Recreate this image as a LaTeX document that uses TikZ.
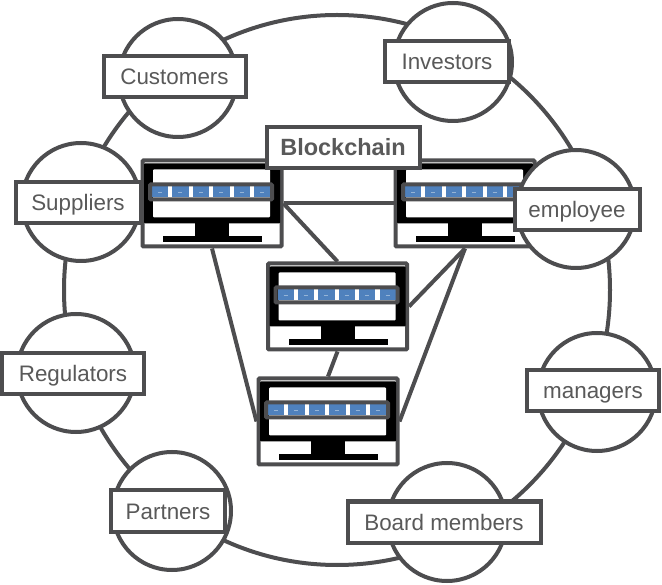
\documentclass[tikz,border=0pt]{standalone}
\usepackage{fontspec}
\setmainfont{Liberation Sans}
\usetikzlibrary{positioning,shapes.geometric}
\definecolor{edgegray}{HTML}{4D4D4F}
\definecolor{labelgray}{HTML}{595959}
\definecolor{blockblue}{HTML}{4F81BD}
\tikzset{
ln/.style={draw=edgegray,line width=4pt},
party/.style={ln,circle,fill=white,minimum size=118pt,inner sep=0pt},
lbl/.style={ln,rectangle,fill=white,minimum height=41pt,inner sep=0pt,text=labelgray,text height=16pt,text depth=0pt,font=\fontsize{22.4}{26}\selectfont},
pc/.style={ln,rectangle,fill=white,rounded corners=1pt,minimum width=139pt,minimum height=86pt,inner sep=0pt},
wire/.style={ln}
}
\newcommand{\drawscreen}[1]{
\fill[black,rounded corners=1pt]([shift={(-68,-40)}]#1.center) rectangle ([shift={(68,20)}]#1.center);
\fill[white,rounded corners=1pt]([shift={(-59,-34)}]#1.center) rectangle ([shift={(58,14)}]#1.center);
\fill[black]([shift={(-17,20)}]#1.center) rectangle ([shift={(17,33)}]#1.center);
\fill[black]([shift={(-49,33)}]#1.center) rectangle ([shift={(50,39)}]#1.center);
\foreach\k in{0,...,5}{\fill[blockblue]([shift={(-60+\k*20.4,-17)}]#1.center) rectangle ([shift={(-43.7+\k*20.4,-6)}]#1.center);
\draw[blockblue!60!white,line width=.6pt]([shift={(-54+\k*20.4,-11)}]#1.center)--([shift={(-50+\k*20.4,-11)}]#1.center);}
\draw[draw=edgegray,line width=4pt,rounded corners=1pt]([shift={(-62,-19)}]#1.center) rectangle ([shift={(60,-4)}]#1.center);
}
\begin{document}
\begin{tikzpicture}[x=1pt,y=-1pt]
\useasboundingbox(0,0)rectangle(662,585);
\node[ln,ellipse,minimum width=546pt,minimum height=550pt,inner sep=0pt](ring)at(337,290){};
% monitors
\foreach\n/\x/\y in{pc1/212/203.5,pc2/465/203.5,pc3/337.5/306.5,pc4/328/421.5}{\node[pc](\n)at(\x,\y){};\drawscreen{\n}}
\draw[wire](pc1)--(pc2);\draw[wire](pc1.east)--(pc3.north);\draw[wire](pc1.south)--(pc4.west);
\draw[wire](pc3.south)--(pc4.north);\draw[wire](pc3.east)--(pc2.south);\draw[wire](pc4.east)--(pc2.south);
% people
\foreach\n/\x/\y in{customers/178/78,investors/453/62,suppliers/81/202,employee/576/209,regulators/76/373,managers/597/392,partners/172/511,board/447/522}\node[party](c\n)at(\x,\y){};
\node[lbl,minimum width=142pt](customers)at(174.5,77){Customers};
\node[lbl,minimum width=124pt](investors)at(447,61.5){Investors};
\node[lbl,minimum width=125pt](suppliers)at(78,202.5){Suppliers};
\node[lbl,minimum width=125pt](employee)at(577,209.5){employee};
\node[lbl,minimum width=142pt](regulators)at(73,374){Regulators};
\node[lbl,minimum width=132pt](managers)at(593,391){managers};
\node[lbl,minimum width=114pt](partners)at(168,511){Partners};
\node[lbl,minimum width=193pt](board)at(444,522){Board members};
\node[lbl,minimum width=153pt,font=\fontsize{23.5}{26}\selectfont\bfseries](chain)at(343,148){Blockchain};
\end{tikzpicture}
\end{document}
